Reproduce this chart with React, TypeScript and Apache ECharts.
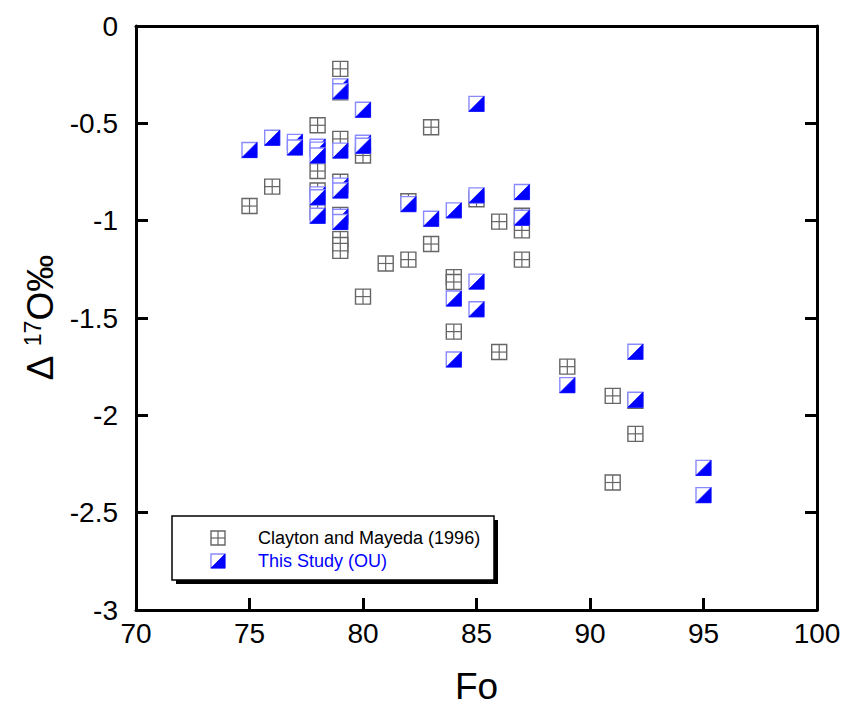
import React, { useEffect, useRef } from "react";
import * as echarts from "echarts";

// Clayton and Mayeda (1996): [Fo, Δ17O‰]
const claytonFo = [75, 76, 78, 78, 78, 78, 79, 79, 79, 79, 79, 79, 79, 79, 80, 80, 81, 82, 82, 83, 83, 84, 84, 84, 85, 86, 86, 87, 87, 87, 89, 91, 91, 92, 92];
const claytonD17O = [-0.925, -0.825, -0.51, -0.745, -0.845, -0.955, -0.22, -0.34, -0.58, -0.8, -0.97, -1.095, -1.125, -1.155, -0.665, -1.39, -1.22, -0.9, -1.2, -0.52, -1.12, -1.29, -1.315, -1.57, -0.89, -1.005, -1.675, -0.975, -1.05, -1.2, -1.75, -1.9, -2.345, -1.925, -2.095];

// This Study (OU)
const studyFo = [75, 76, 77, 77, 78, 78, 78, 78, 78, 78, 79, 79, 79, 79, 79, 79, 79, 80, 80, 80, 82, 83, 84, 84, 84, 85, 85, 85, 85, 87, 87, 89, 92, 92, 95, 95];
const studyD17O = [-0.637, -0.574, -0.595, -0.624, -0.62, -0.635, -0.665, -0.865, -0.88, -0.975, -0.31, -0.335, -0.64, -0.82, -0.845, -0.98, -1.007, -0.43, -0.6, -0.615, -0.915, -0.99, -0.947, -1.4, -1.713, -0.4, -0.87, -1.313, -1.455, -0.853, -0.985, -1.845, -1.673, -1.92, -2.27, -2.41];

const seriesNames = ["Clayton and Mayeda (1996)", "This Study (OU)"];

const FONT = "'Liberation Sans', Arial, sans-serif";
const MS = 15; // marker size

function grayMarker(cx: number, cy: number, s: number) {
  const x0 = cx - s / 2;
  const y0 = cy - s / 2;
  return [
    { type: "rect", shape: { x: x0, y: y0, width: s, height: s }, style: { fill: "#fff", stroke: "#666", lineWidth: 1.4 } },
    { type: "line", shape: { x1: cx, y1: y0, x2: cx, y2: y0 + s }, style: { stroke: "#666", lineWidth: 1.2 } },
    { type: "line", shape: { x1: x0, y1: cy, x2: x0 + s, y2: cy }, style: { stroke: "#666", lineWidth: 1.2 } },
  ];
}

function blueMarker(cx: number, cy: number, s: number) {
  const x0 = cx - s / 2;
  const y0 = cy - s / 2;
  return [
    { type: "rect", shape: { x: x0, y: y0, width: s, height: s }, style: { fill: "#fff", stroke: "#8a8aff", lineWidth: 1.4 } },
    { type: "polygon", shape: { points: [[x0 + s, y0], [x0 + s, y0 + s], [x0, y0 + s]] }, style: { fill: "#0000ff", stroke: "#0000ff", lineWidth: 0.8 } },
  ];
}

export default function App() {
  const ref = useRef<HTMLDivElement>(null);
  useEffect(() => {
    if (!ref.current) return;
    const chart = echarts.init(ref.current, null, { renderer: "svg" });
    const claytonData = claytonFo.map((f, i) => [f, claytonD17O[i]]);
    const studyData = studyFo.map((f, i) => [f, studyD17O[i]]);

    const legendX = 218;
    const legendChildren: any[] = [
      { type: "rect", shape: { x: 176, y: 520, width: 322, height: 64 }, style: { fill: "#000" } },
      { type: "rect", shape: { x: 172, y: 516, width: 322, height: 64 }, style: { fill: "#fff", stroke: "#000", lineWidth: 1.5 } },
      ...grayMarker(legendX, 538, 14),
      ...blueMarker(legendX, 561, 14),
      { type: "text", x: 258, y: 538, style: { text: seriesNames[0], fill: "#000", font: `18px ${FONT}`, verticalAlign: "middle", align: "left" } },
      { type: "text", x: 258, y: 561, style: { text: seriesNames[1], fill: "#0000ff", font: `18px ${FONT}`, verticalAlign: "middle", align: "left" } },
    ];

    chart.setOption({
      animation: false,
      backgroundColor: "#fff",
      grid: { left: 136, right: 29, top: 26, bottom: 98, show: false },
      xAxis: [
        {
          type: "value", min: 70, max: 100, interval: 5, position: "bottom",
          name: "Fo", nameLocation: "middle", nameGap: 58,
          nameTextStyle: { fontFamily: FONT, fontSize: 37, color: "#000" },
          axisLine: { show: true, onZero: false, lineStyle: { color: "#000", width: 3 } },
          axisTick: { show: true, inside: true, length: 12, lineStyle: { color: "#000", width: 3 } },
          axisLabel: { fontFamily: FONT, fontSize: 28, color: "#000", margin: 9 },
          splitLine: { show: false },
        },
        {
          type: "value", min: 70, max: 100, interval: 5, position: "top",
          axisLine: { show: true, onZero: false, lineStyle: { color: "#000", width: 3 } },
          axisTick: { show: false }, axisLabel: { show: false }, splitLine: { show: false },
        },
      ],
      yAxis: [
        {
          type: "value", min: -3, max: 0, interval: 0.5, position: "left",
          name: "{d|Δ }{s|17}{d|O‰}", nameLocation: "middle", nameGap: 58, nameRotate: 90,
          nameTextStyle: {
            rich: {
              d: { fontFamily: FONT, fontSize: 37, color: "#000", verticalAlign: "bottom" },
              s: { fontFamily: FONT, fontSize: 23, color: "#000", verticalAlign: "top" },
            },
          },
          axisLine: { show: true, onZero: false, lineStyle: { color: "#000", width: 3 } },
          axisTick: { show: true, inside: true, length: 12, lineStyle: { color: "#000", width: 3 } },
          axisLabel: { fontFamily: FONT, fontSize: 28, color: "#000", margin: 18 },
          splitLine: { show: false },
        },
        {
          type: "value", min: -3, max: 0, interval: 0.5, position: "right",
          axisLine: { show: true, onZero: false, lineStyle: { color: "#000", width: 3 } },
          axisTick: { show: true, inside: true, length: 12, lineStyle: { color: "#000", width: 3 } },
          axisLabel: { show: false }, splitLine: { show: false },
        },
      ],
      series: [
        {
          name: seriesNames[0], type: "custom", xAxisIndex: 0, yAxisIndex: 0, data: claytonData, z: 2,
          renderItem: (params: any, api: any) => {
            const p = api.coord([api.value(0), api.value(1)]);
            return { type: "group", children: grayMarker(p[0], p[1], MS) };
          },
        },
        {
          name: seriesNames[1], type: "custom", xAxisIndex: 0, yAxisIndex: 0, data: studyData, z: 3,
          renderItem: (params: any, api: any) => {
            const p = api.coord([api.value(0), api.value(1)]);
            return { type: "group", children: blueMarker(p[0], p[1], MS) };
          },
        },
      ],
      graphic: [{ type: "group", children: legendChildren, z: 10 }],
    });
    return () => chart.dispose();
  }, []);
  return <div ref={ref} style={{ position: "fixed", left: 0, top: 0, width: 846, height: 710 }} />;
}
